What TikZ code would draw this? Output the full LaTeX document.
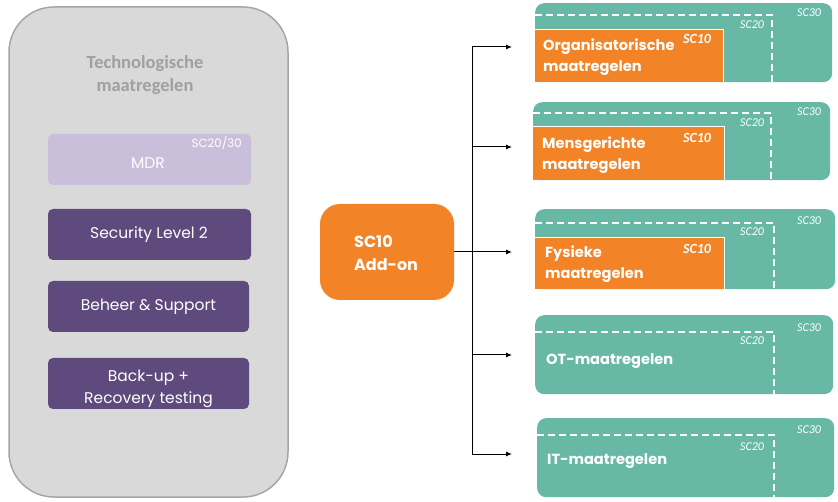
\documentclass[tikz,border=0pt]{standalone}
\usepackage{fontspec}
\setmainfont{Poppins}
\newfontfamily\carl{Carlito}
\newfontfamily\popp{Poppins}
\usetikzlibrary{arrows.meta}
\definecolor{grayfill}{RGB}{217,217,217}
\definecolor{grayline}{RGB}{166,166,166}
\definecolor{graytext}{RGB}{160,160,160}
\definecolor{mdrfill}{RGB}{201,191,219}
\definecolor{purp}{RGB}{94,74,124}
\definecolor{orng}{RGB}{242,131,38}
\definecolor{tealc}{RGB}{103,185,165}
\tikzset{
  purpbox/.style={fill=purp, rounded corners=5pt, minimum width=201pt, minimum height=51pt, inner sep=0pt},
  purptext/.style={text=white, font=\popp\fontsize{15.5}{22}\selectfont, align=center, inner sep=0pt},
  tealbox/.style={fill=tealc, rounded corners=9pt, anchor=north west, inner sep=0pt},
  orngbox/.style={fill=orng, anchor=south west, inner sep=0pt},
  orngedge/.style={draw=white, line width=1.3pt},
  dashln/.style={draw=white, line width=1.6pt, dash pattern=on 7pt off 4pt},
  bigtext/.style={text=white, font=\popp\bfseries\fontsize{14.6}{21}\selectfont, align=left, anchor=west, inner sep=0pt},
  sclabel/.style={text=white, font=\carl\itshape\fontsize{12}{14}\selectfont, inner sep=0pt},
  sclabelb/.style={text=white, font=\carl\bfseries\itshape\fontsize{14}{16}\selectfont, inner sep=0pt},
  conn/.style={draw=black, line width=1pt},
  arr/.style={conn, -{Latex[length=6pt,width=5pt]}}
}
\begin{document}
\begin{tikzpicture}[x=1pt,y=-1pt]
\useasboundingbox (0,0) rectangle (838,502);
% left panel
\node[draw=grayline, line width=1.5pt, fill=grayfill, rounded corners=45pt, minimum width=279pt, minimum height=490pt, inner sep=0pt] (panel) at (148.5,252) {};
\node[text=graytext, font=\carl\bfseries\fontsize{18.5}{23}\selectfont, align=center] (title) at (145,75) {Technologische\\maatregelen};
\node[fill=mdrfill, rounded corners=5pt, minimum width=203pt, minimum height=51pt, inner sep=0pt] (mdr) at (149.5,159.5) {};
\node[purptext] (mdrt) at (148,163) {MDR};
\node[text=white, font=\popp\fontsize{11.8}{13}\selectfont, anchor=east, inner sep=0pt] (mdrsc) at (242,143) {SC20/30};
\node[purpbox, minimum width=203pt] (sec) at (149.5,234.5) {};
\node[purptext] (sect) at (149,235) {Security Level 2};
\node[purpbox] (beh) at (148.5,306.5) {};
\node[purptext] (beht) at (148.5,307) {Beheer \& Support};
\node[purpbox] (bak) at (148.5,383.5) {};
\node[purptext] (bakt) at (148.5,389) {Back-up +\\Recovery testing};
% add-on
\node[fill=orng, rounded corners=20pt, minimum width=134pt, minimum height=96pt, inner sep=0pt] (addon) at (387,252) {};
\node[text=white, font=\popp\bfseries\fontsize{16}{23}\selectfont, align=left, anchor=west, inner sep=0pt] (addont) at (354,253) {SC10\\Add-on};
% connectors
\coordinate (j1) at (472,47);
\coordinate (j2) at (472,147);
\coordinate (j4) at (472,355);
\coordinate (j5) at (472,454);
\coordinate (e1) at (512,47);
\coordinate (e2) at (512,147);
\coordinate (e3) at (512,252);
\coordinate (e4) at (512,355);
\coordinate (e5) at (512,454);
\draw[conn] (j1) -- (j5);
\draw[arr] (addon.east) -- (e3);
\draw[arr] (j1) -- (e1);
\draw[arr] (j2) -- (e2);
\draw[arr] (j4) -- (e4);
\draw[arr] (j5) -- (e5);
% box 1
\node[tealbox, minimum width=297pt, minimum height=79pt] (t1) at (535,3) {};
\node[orngbox, minimum width=188pt, minimum height=52pt] (o1) at (535,82) {};
\draw[orngedge] (o1.south east) -- (o1.north east) -- (o1.north west);
\draw[dashln] (535,15) -- (772,15) -- (772,82);
\node[bigtext] (l1) at (543,57) {Organisatorische\\maatregelen};
\node[sclabelb] (s1a) at (697,39) {SC10};
\node[sclabel] (s1b) at (752,25) {SC20};
\node[sclabel] (s1c) at (809,13) {SC30};
% box 2
\node[tealbox, minimum width=297pt, minimum height=78pt] (t2) at (533,102) {};
\node[orngbox, minimum width=191pt, minimum height=53pt] (o2) at (533,180) {};
\draw[orngedge] (o2.south east) -- (o2.north east) -- (o2.north west);
\draw[dashln] (533,113) -- (771,113) -- (771,180);
\node[bigtext] (l2) at (542,155) {Mensgerichte\\maatregelen};
\node[sclabelb] (s2a) at (697,138) {SC10};
\node[sclabel] (s2b) at (752,123) {SC20};
\node[sclabel] (s2c) at (809,112) {SC30};
% box 3
\node[tealbox, minimum width=300pt, minimum height=80pt] (t3) at (535,209) {};
\node[orngbox, minimum width=189pt, minimum height=51pt] (o3) at (535,289) {};
\draw[orngedge] (o3.south east) -- (o3.north east) -- (o3.north west);
\draw[dashln] (535,223) -- (774,223) -- (774,289);
\node[bigtext] (l3) at (545,264) {Fysieke\\maatregelen};
\node[sclabelb] (s3a) at (697,249) {SC10};
\node[sclabel] (s3b) at (752,232) {SC20};
\node[sclabel] (s3c) at (809,221) {SC30};
% box 4
\node[tealbox, minimum width=298pt, minimum height=79pt] (t4) at (535,315) {};
\draw[dashln] (535,332) -- (774,332) -- (774,394);
\node[bigtext] (l4) at (546,361) {OT-maatregelen};
\node[sclabel] (s4b) at (752,341) {SC20};
\node[sclabel] (s4c) at (809,328) {SC30};
% box 5
\node[tealbox, minimum width=297pt, minimum height=79pt] (t5) at (537,418) {};
\draw[dashln] (537,435) -- (774,435) -- (774,497);
\node[bigtext] (l5) at (547,461) {IT-maatregelen};
\node[sclabel] (s5b) at (752,447) {SC20};
\node[sclabel] (s5c) at (809,430) {SC30};
\end{tikzpicture}
\end{document}
